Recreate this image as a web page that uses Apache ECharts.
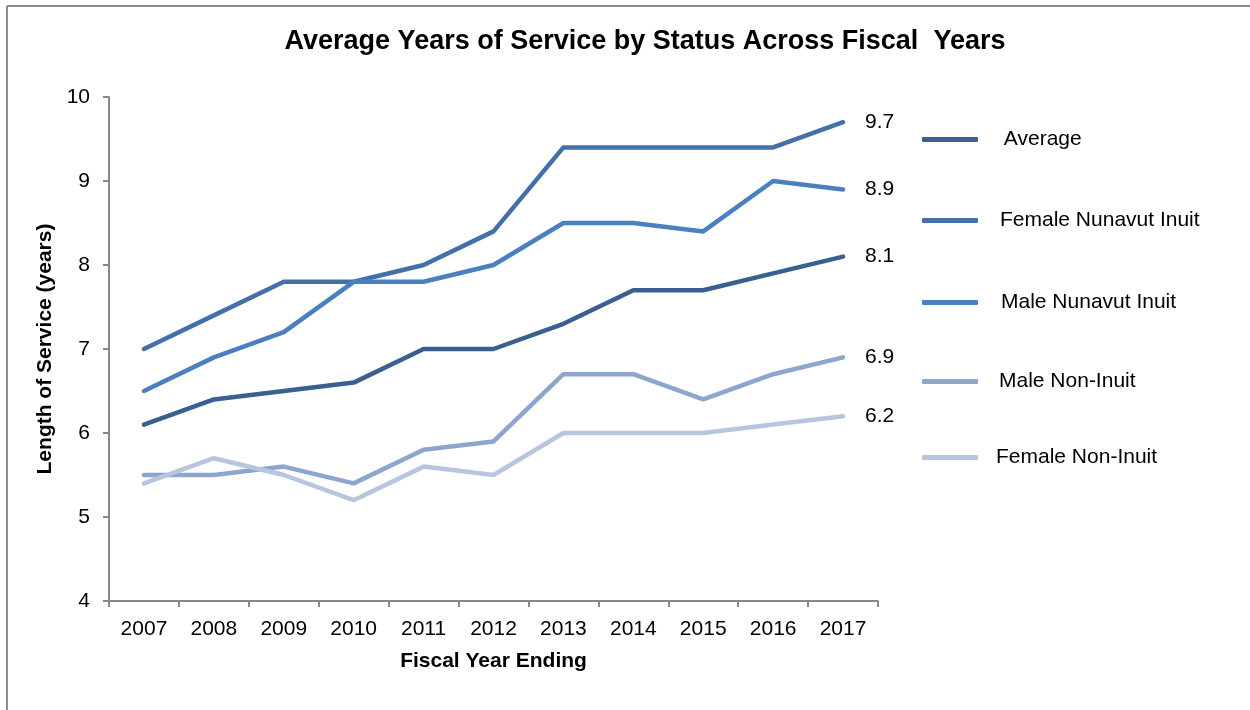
<!DOCTYPE html>
<html>
<head>
<meta charset="utf-8">
<script src="https://cdn.jsdelivr.net/npm/echarts@6/dist/echarts.min.js"></script>
<style>
html,body{margin:0;padding:0;background:#fff;}
#chart{width:1250px;height:710px;}
</style>
</head>
<body>
<div id="chart"></div>
<script>
var categories = ['2007','2008','2009','2010','2011','2012','2013','2014','2015','2016','2017'];
var seriesNames = [' Average','Female Nunavut Inuit','Male Nunavut Inuit','Male Non-Inuit','Female Non-Inuit'];
var average = [6.1, 6.4, 6.5, 6.6, 7.0, 7.0, 7.3, 7.7, 7.7, 7.9, 8.1];
var femaleInuit = [7.0, 7.4, 7.8, 7.8, 8.0, 8.4, 9.4, 9.4, 9.4, 9.4, 9.7];
var maleInuit = [6.5, 6.9, 7.2, 7.8, 7.8, 8.0, 8.5, 8.5, 8.4, 9.0, 8.9];
var maleNonInuit = [5.5, 5.5, 5.6, 5.4, 5.8, 5.9, 6.7, 6.7, 6.4, 6.7, 6.9];
var femaleNonInuit = [5.4, 5.7, 5.5, 5.2, 5.6, 5.5, 6.0, 6.0, 6.0, 6.1, 6.2];
var colors = ['#3A6090', '#4470AA', '#4A80C0', '#8DA6CE', '#B8C5DF'];

var allData = [average, femaleInuit, maleInuit, maleNonInuit, femaleNonInuit];
var legendTops = [124, 205, 287, 366, 442];
var legendTextPad = [15, 17, 18, 16, 13];

var chart = echarts.init(document.getElementById('chart'));
var font = '"Liberation Sans", Arial, sans-serif';
var axisColor = '#898989';
var fs = 21;

var series = allData.map(function (d, i) {
  return {
    name: seriesNames[i],
    type: 'line',
    data: d,
    symbol: 'none',
    color: colors[i],
    lineStyle: { width: 4.5, color: colors[i], cap: 'round', join: 'round' },
    endLabel: {
      show: true,
      distance: 22,
      color: '#000',
      fontSize: fs,
      fontFamily: font,
      formatter: function (p) { return Number(p.value).toFixed(1); }
    },
    animation: false
  };
});

var legends = seriesNames.map(function (n, i) {
  return {
    data: [n],
    left: 917,
    top: legendTops[i],
    orient: 'vertical',
    icon: 'roundRect',
    itemWidth: 56,
    itemHeight: 5,
    selectedMode: false,
    textStyle: { color: '#000', fontSize: fs, fontFamily: font, padding: [0, 0, 0, legendTextPad[i]] }
  };
});

chart.setOption({
  backgroundColor: '#fff',
  animation: false,
  title: {
    text: 'Average Years of Service by Status Across Fiscal  Years',
    left: 640,
    textAlign: 'center',
    top: 23,
    textStyle: { fontSize: 27, fontWeight: 'bold', color: '#000', fontFamily: font }
  },
  legend: legends,
  grid: { left: 109, right: 372, top: 97, bottom: 109, containLabel: false },
  xAxis: {
    type: 'category',
    data: categories,
    boundaryGap: true,
    name: 'Fiscal Year Ending',
    nameLocation: 'middle',
    nameGap: 50,
    nameTextStyle: { fontSize: fs, fontWeight: 'bold', color: '#000', fontFamily: font },
    axisLine: { show: true, lineStyle: { color: axisColor, width: 2 } },
    axisTick: { show: true, length: 6, alignWithLabel: false, lineStyle: { color: axisColor, width: 2 } },
    axisLabel: { fontSize: fs, color: '#000', margin: 18, fontFamily: font },
    splitLine: { show: false }
  },
  yAxis: {
    type: 'value',
    min: 4,
    max: 10,
    interval: 1,
    name: 'Length of Service (years)',
    nameLocation: 'middle',
    nameGap: 47,
    nameRotate: 90,
    nameTextStyle: { fontSize: fs, fontWeight: 'bold', color: '#000', fontFamily: font },
    axisLine: { show: true, lineStyle: { color: axisColor, width: 2 } },
    axisTick: { show: true, length: 6, lineStyle: { color: axisColor, width: 2 } },
    axisLabel: { fontSize: fs, color: '#000', margin: 19, fontFamily: font },
    splitLine: { show: false }
  },
  graphic: [
    { type: 'line', shape: { x1: 7, y1: 6, x2: 1250, y2: 6 }, style: { stroke: '#8c8c8c', lineWidth: 2 } },
    { type: 'line', shape: { x1: 7, y1: 6, x2: 7, y2: 710 }, style: { stroke: '#8c8c8c', lineWidth: 2 } }
  ],
  series: series
});
</script>
</body>
</html>
